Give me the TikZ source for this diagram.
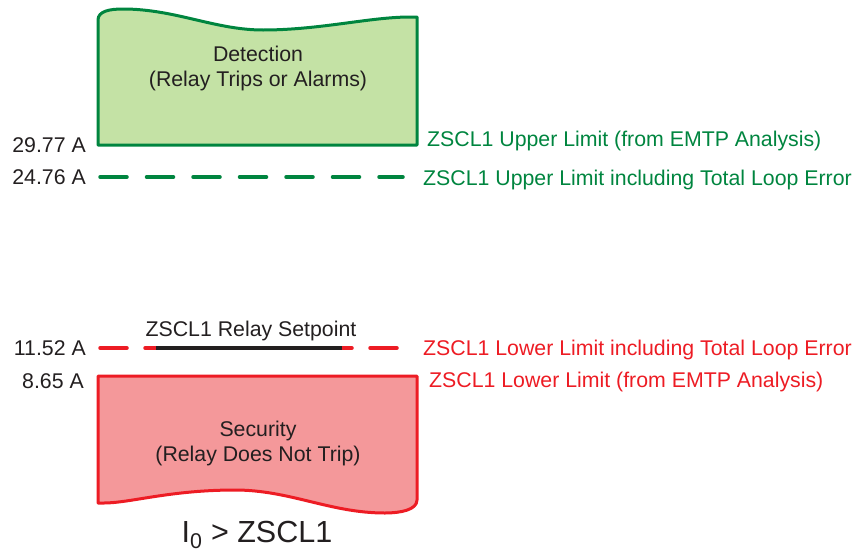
\documentclass[tikz,border=0pt]{standalone}
\usepackage{fontspec}
\setmainfont{Liberation Sans}
\definecolor{gline}{RGB}{0,133,63}
\definecolor{gfill}{RGB}{196,226,165}
\definecolor{rline}{RGB}{237,28,36}
\definecolor{rfill}{RGB}{244,152,154}
\definecolor{txt}{RGB}{35,31,32}
\begin{document}
\begin{tikzpicture}[x=1pt,y=-1pt,
  lab/.style={font=\fontsize{21.3}{25}\selectfont, text=txt, inner sep=0pt},
  rlab/.style={font=\fontsize{21.3}{25}\selectfont, inner sep=0pt, anchor=west},
  val/.style={font=\fontsize{21.3}{25}\selectfont, text=txt, inner sep=0pt, anchor=east},
  boxg/.style={draw=gline, fill=gfill, line width=3pt, line join=round},
  boxr/.style={draw=rline, fill=rfill, line width=3pt, line join=round},
  dashg/.style={draw=gline, line width=3.5pt, dash pattern=on 27pt off 19.5pt, line cap=round},
  dashr/.style={draw=rline, line width=3.5pt, dash pattern=on 27pt off 18pt, line cap=round}]
\useasboundingbox (0,0) rectangle (853,552);
% top box
\path[boxg] (98,145) -- (98,20) .. controls (98,11) and (110,9) .. (123,9)
  .. controls (175,9) and (215,30) .. (263,30)
  .. controls (320,30) and (370,17) .. (410,17) -- (417,17) -- (417,145) -- cycle;
\node[lab, align=center] (det) at (258,68) {Detection\\(Relay Trips or Alarms)};
% bottom box
\path[boxr] (98,376) -- (417,376) -- (417,500) .. controls (417,510) and (400,513) .. (385,513)
  .. controls (330,513) and (290,490) .. (235,490)
  .. controls (170,490) and (130,503) .. (104,503) -- (98,503) -- cycle;
\node[lab, align=center] (sec) at (258,443) {Security\\(Relay Does Not Trip)};
% green dashed
\coordinate (g1) at (100,177);
\coordinate (g2) at (403,177);
\draw[dashg] (g1) -- (g2);
% red dashed and setpoint
\coordinate (r1) at (100,348);
\coordinate (r2) at (403,348);
\draw[dashr] (r1) -- (r2);
\coordinate (s1) at (156,348);
\coordinate (s2) at (342,348);
\draw[draw=txt, line width=4pt] (s1) -- (s2);
\node[lab] (sp) at (251,331) {ZSCL1 Relay Setpoint};
% values
\node[val] (v1) at (86,145) {29.77 A};
\node[val] (v2) at (86,177) {24.76 A};
\node[val] (v3) at (86,348) {11.52 A};
\node[val] (v4) at (84,381) {8.65 A};
% right labels
\node[rlab, text=gline] (l1) at (427,141) {ZSCL1 Upper Limit (from EMTP Analysis)};
\node[rlab, text=gline] (l2) at (423,180) {ZSCL1 Upper Limit including Total Loop Error};
\node[rlab, text=rline] (l3) at (423,350) {ZSCL1 Lower Limit including Total Loop Error};
\node[rlab, text=rline] (l4) at (429,382) {ZSCL1 Lower Limit (from EMTP Analysis)};
% formula
\node[font=\fontsize{30.5}{34}\selectfont, text=txt, inner sep=0pt] (f) at (257,535) {I\textsubscript{0} > ZSCL1};
\end{tikzpicture}
\end{document}
